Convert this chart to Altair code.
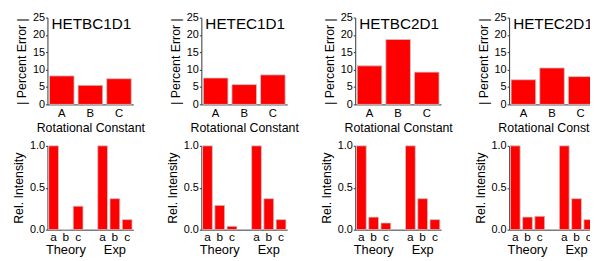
import altair as alt
import pandas as pd

names = ["HETBC1D1", "HETEC1D1", "HETBC2D1", "HETEC2D1"]
constants = ["A", "B", "C"]
pct_err = [
    [8.2, 5.5, 7.4],
    [7.6, 5.7, 8.5],
    [11.1, 18.7, 9.3],
    [7.1, 10.5, 8.0],
]
theory = [
    [1.0, 0.0, 0.28],
    [1.0, 0.29, 0.04],
    [1.0, 0.15, 0.08],
    [1.0, 0.15, 0.16],
]
experiment = [
    [1.0, 0.37, 0.12],
    [1.0, 0.37, 0.12],
    [1.0, 0.37, 0.12],
    [1.0, 0.37, 0.12],
]
transitions = ["a", "b", "c"]
groups = ["Theory", "Exp"]

FONT = "Liberation Sans"
RED = "#ff0000"
W = 87
H_TOP = 88
H_BOT = 85

slot_domain = ["Ta", "Tb", "Tc", "gap", "Ea", "Eb", "Ec"]


def top_panel(i):
    df = pd.DataFrame({"const": constants, "err": pct_err[i]})
    bars = alt.Chart(df).mark_bar(color=RED, stroke="#c8c8c8", strokeWidth=0.8).encode(
        x=alt.X("const:N", scale=alt.Scale(domain=constants, paddingInner=0.14, paddingOuter=0.07),
                axis=alt.Axis(title="Rotational Constant", labelAngle=0, ticks=False,
                              labelPadding=3, titlePadding=3)),
        y=alt.Y("err:Q", scale=alt.Scale(domain=[0, 25], nice=False),
                axis=alt.Axis(title="| Percent Error |", values=[0, 5, 10, 15, 20, 25],
                              format="d", titlePadding=4)),
    )
    tdf = pd.DataFrame({"t": [names[i]]})
    title = alt.Chart(tdf).mark_text(font=FONT, fontSize=15.5, baseline="middle",
                                     align="center", color="#000").encode(
        text="t:N", x=alt.value(W / 2 + 1), y=alt.value(7))
    return alt.layer(bars, title).properties(width=W, height=H_TOP)


def bot_panel(i):
    slots, vals = [], []
    for k, t in enumerate(transitions):
        slots.append("T" + t)
        vals.append(theory[i][k])
    for k, t in enumerate(transitions):
        slots.append("E" + t)
        vals.append(experiment[i][k])
    df = pd.DataFrame({"slot": slots, "val": vals})
    xscale = alt.Scale(domain=slot_domain, paddingInner=0.2, paddingOuter=0.1)
    bars = alt.Chart(df).mark_bar(color=RED, stroke="#c8c8c8", strokeWidth=0.8).encode(
        x=alt.X("slot:N", scale=xscale,
                axis=alt.Axis(title=None, labelAngle=0, ticks=False, labelPadding=2,
                              labelFontSize=12,
                              labelExpr="datum.value == 'gap' ? '' : substring(datum.value, 1)")),
        y=alt.Y("val:Q", scale=alt.Scale(domain=[0, 1], nice=False),
                axis=alt.Axis(title="Rel. Intensity", values=[0, 0.5, 1.0],
                              format=".1f", titlePadding=4)),
    )
    gdf = pd.DataFrame({"slot": ["Tb", "Eb"], "g": groups})
    glab = alt.Chart(gdf).mark_text(font=FONT, fontSize=13, baseline="alphabetic",
                                    align="center", color="#000").encode(
        x=alt.X("slot:N", scale=xscale), text="g:N", y=alt.value(H_BOT + 25))
    return alt.layer(bars, glab).properties(width=W, height=H_BOT)


panels = [top_panel(i) for i in range(4)] + [bot_panel(i) for i in range(4)]

chart = alt.concat(*panels, columns=4, spacing={"row": 42, "column": 69}, bounds="flush").properties(
    padding={"left": 4, "top": 2, "right": -17, "bottom": 0}
).configure_view(stroke=None).configure_axis(
    grid=False,
    domainColor="#333",
    domainWidth=1,
    tickColor="#333",
    tickSize=2,
    labelPadding=1,
    labelFont=FONT,
    labelFontSize=11,
    labelColor="#000",
    titleFont=FONT,
    titleFontSize=12.5,
    titleFontWeight="normal",
    titleColor="#000",
).configure_axisX(labelFontSize=11.5).configure_text(font=FONT)

chart.save("out.html", embed_options={"renderer": "svg", "actions": False})
